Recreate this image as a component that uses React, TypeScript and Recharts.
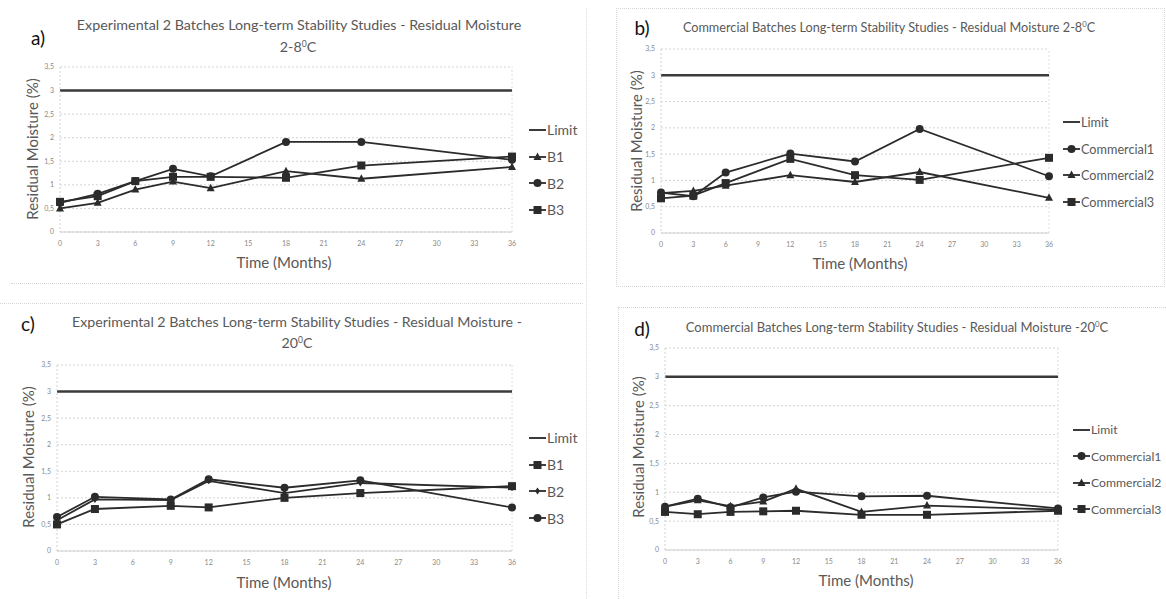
import React from 'react'
import { LineChart, Line, XAxis, YAxis, CartesianGrid, Legend, ReferenceLine } from 'recharts'

// panel a) experimental, 2-8 C
const monthsA = [0, 3, 6, 9, 12, 18, 24, 36]
const limitA = [3, 3, 3, 3, 3, 3, 3, 3]
const b1A = [0.5, 0.62, 0.9, 1.07, 0.93, 1.29, 1.13, 1.38]
const b2A = [0.62, 0.81, 1.08, 1.34, 1.18, 1.91, 1.91, 1.53]
const b3A = [0.64, 0.76, 1.08, 1.17, 1.17, 1.15, 1.41, 1.6]

// panel b) commercial, 2-8 C
const monthsB = [0, 3, 6, 12, 18, 24, 36]
const limitB = [3, 3, 3, 3, 3, 3, 3]
const c1B = [0.77, 0.7, 1.15, 1.51, 1.36, 1.98, 1.08]
const c2B = [0.76, 0.8, 0.9, 1.1, 0.97, 1.16, 0.67]
const c3B = [0.66, 0.71, 0.95, 1.41, 1.1, 1.01, 1.43]

// panel c) experimental, -20 C
const monthsC = [0, 3, 9, 12, 18, 24, 36]
const limitC = [3, 3, 3, 3, 3, 3, 3]
const b1C = [0.5, 0.79, 0.85, 0.82, 1.0, 1.09, 1.22]
const b2C = [0.58, 0.97, 0.96, 1.32, 1.09, 1.28, 1.19]
const b3C = [0.64, 1.02, 0.97, 1.35, 1.19, 1.33, 0.82]

// panel d) commercial, -20 C
const monthsD = [0, 3, 6, 9, 12, 18, 24, 36]
const limitD = [3, 3, 3, 3, 3, 3, 3, 3]
const c1D = [0.75, 0.89, 0.74, 0.91, 1.01, 0.93, 0.94, 0.72]
const c2D = [0.75, 0.86, 0.76, 0.84, 1.06, 0.66, 0.77, 0.7]
const c3D = [0.66, 0.62, 0.66, 0.67, 0.68, 0.61, 0.61, 0.68]

const xTicks = [0, 3, 6, 9, 12, 15, 18, 21, 24, 27, 30, 33, 36]
const yTicks = [0, 0.5, 1, 1.5, 2, 2.5, 3, 3.5]

const FONT = 'Lato, "Open Sans", sans-serif'
const INK = '#2b2b2b'
const GREY_TEXT = '#595959'

type Shape = 'none' | 'circle' | 'triangle' | 'square' | 'star'

const Marker = ({ shape, cx, cy }: { shape: Shape; cx: number; cy: number }) => {
  if (shape === 'circle') return <circle cx={cx} cy={cy} r={4} fill={INK} />
  if (shape === 'square') return <rect x={cx - 4} y={cy - 4} width={8} height={8} fill={INK} />
  if (shape === 'triangle')
    return <polygon points={`${cx},${cy - 4.5} ${cx + 4},${cy + 3} ${cx - 4},${cy + 3}`} fill={INK} />
  if (shape === 'star')
    return <polygon points={`${cx},${cy - 3.5} ${cx + 2.5},${cy} ${cx},${cy + 3.5} ${cx - 2.5},${cy}`} fill={INK} />
  return null
}

const makeDot = (shape: Shape) => (props: any) => {
  const { cx, cy, index } = props
  if (cx == null || cy == null) return <g key={index} />
  return (
    <g key={index}>
      <Marker shape={shape} cx={cx} cy={cy} />
    </g>
  )
}

interface Series {
  key: string
  values: number[]
  shape: Shape
}

interface PanelProps {
  left: number
  top: number
  width: number
  height: number
  margin: { top: number; right: number; bottom: number; left: number }
  yAxisWidth: number
  months: number[]
  limit: number[]
  series: Series[]
  legendLeft: number
  legendTop: number
  legendGap: number
  legendFont: number
}

const LegendBox = ({ items, gap, font }: { items: { name: string; shape: Shape }[]; gap: number; font: number }) => (
  <div style={{ fontFamily: FONT, fontSize: font, color: GREY_TEXT }}>
    {items.map(it => (
      <div key={it.name} style={{ display: 'flex', alignItems: 'center', height: gap }}>
        <svg width={17} height={12} style={{ marginRight: 1, flex: 'none' }}>
          <line x1={0} y1={6} x2={17} y2={6} stroke={it.shape === 'none' ? '#3a3a3a' : INK} strokeWidth={it.shape === 'none' ? 2 : 1.8} />
          <Marker shape={it.shape} cx={8.5} cy={6} />
        </svg>
        <span style={{ whiteSpace: 'nowrap' }}>{it.name}</span>
      </div>
    ))}
  </div>
)

const Panel = (p: PanelProps) => {
  const data = p.months.map((m, i) => {
    const row: any = { month: m, Limit: p.limit[i] }
    p.series.forEach(s => {
      row[s.key] = s.values[i]
    })
    return row
  })
  const legendItems = [{ name: 'Limit', shape: 'none' as Shape }, ...p.series.map(s => ({ name: s.key, shape: s.shape }))]
  return (
    <div style={{ position: 'absolute', left: p.left, top: p.top }}>
      <LineChart width={p.width} height={p.height} data={data} margin={p.margin}>
        <CartesianGrid vertical={false} stroke="#d4d4d4" strokeDasharray="2 2" />
        <XAxis
          dataKey="month"
          type="number"
          domain={[0, 36]}
          ticks={xTicks}
          interval={0}
          height={16}
          tickLine={false}
          axisLine={{ stroke: '#d0d0d0' }}
          tick={{ fontSize: 7, fill: '#8a8a8a', fontFamily: FONT }}
          tickMargin={3}
        />
        <YAxis
          type="number"
          domain={[0, 3.5]}
          ticks={yTicks}
          interval={0}
          width={p.yAxisWidth}
          tickLine={false}
          axisLine={{ stroke: '#d0d0d0', strokeDasharray: '2 2' }}
          tick={{ fontSize: 7, fill: '#8a8a8a', fontFamily: FONT }}
          tickFormatter={(v: number) => String(v).replace('.', ',')}
          tickMargin={0}
        />
        <ReferenceLine x={36} stroke="#dcdcdc" strokeDasharray="2 2" />
        <Legend
          layout="vertical"
          align="center"
          verticalAlign="middle"
          wrapperStyle={{ left: p.legendLeft, top: p.legendTop, width: 100 }}
          content={() => <LegendBox items={legendItems} gap={p.legendGap} font={p.legendFont} />}
        />
        <Line dataKey="Limit" stroke="#3a3a3a" strokeWidth={2.5} dot={false} activeDot={false} isAnimationActive={false} />
        {p.series.map(s => (
          <Line
            key={s.key}
            dataKey={s.key}
            stroke={INK}
            strokeWidth={1.8}
            dot={makeDot(s.shape)}
            activeDot={false}
            connectNulls
            isAnimationActive={false}
          />
        ))}
      </LineChart>
    </div>
  )
}

const Txt = ({ x, y, size, color, children }: any) => (
  <div
    style={{
      position: 'absolute',
      left: x,
      top: y,
      transform: 'translate(-50%, -50%)',
      whiteSpace: 'nowrap',
      fontFamily: FONT,
      fontSize: size,
      color,
      lineHeight: 1,
    }}
  >
    {children}
  </div>
)

const YLabel = ({ x, y }: { x: number; y: number }) => (
  <div
    style={{
      position: 'absolute',
      left: x,
      top: y,
      transform: 'translate(-50%, -50%) rotate(-90deg)',
      whiteSpace: 'nowrap',
      fontFamily: FONT,
      fontSize: 15,
      color: GREY_TEXT,
      lineHeight: 1,
    }}
  >
    Residual Moisture (%)
  </div>
)

const sup = (t: string) => <sup style={{ fontSize: '0.6em', verticalAlign: '0.6em', lineHeight: 0 }}>{t}</sup>

export default function App() {
  return (
    <div style={{ position: 'absolute', left: 0, top: 0, width: 1166, height: 599, background: '#fff', overflow: 'hidden' }}>
      {/* frames */}
      <div style={{ position: 'absolute', left: 11, top: 283, width: 572, borderTop: '1px dotted #d6d6d6' }} />
      <div style={{ position: 'absolute', left: 586, top: 8, height: 591, borderLeft: '1px dotted #dedede' }} />
      <div style={{ position: 'absolute', left: 616, top: 8, width: 547, height: 277, border: '1px dotted #d6d6d6' }} />
      <div style={{ position: 'absolute', left: 0, top: 303, width: 583, borderTop: '1px dotted #d6d6d6' }} />
      <div style={{ position: 'absolute', left: 618, top: 307, width: 560, height: 300, border: '1px dotted #d6d6d6' }} />

      <Panel
        left={0}
        top={0}
        width={583}
        height={290}
        margin={{ top: 67, right: 71, bottom: 42, left: 0 }}
        yAxisWidth={60}
        months={monthsA}
        limit={limitA}
        series={[
          { key: 'B1', values: b1A, shape: 'triangle' },
          { key: 'B2', values: b2A, shape: 'circle' },
          { key: 'B3', values: b3A, shape: 'square' },
        ]}
        legendLeft={529}
        legendTop={116.5}
        legendGap={26.7}
        legendFont={14}
      />
      <Panel
        left={583}
        top={0}
        width={583}
        height={290}
        margin={{ top: 49, right: 117, bottom: 41, left: 0 }}
        yAxisWidth={78}
        months={monthsB}
        limit={limitB}
        series={[
          { key: 'Commercial1', values: c1B, shape: 'circle' },
          { key: 'Commercial2', values: c2B, shape: 'triangle' },
          { key: 'Commercial3', values: c3B, shape: 'square' },
        ]}
        legendLeft={480}
        legendTop={108.5}
        legendGap={26.7}
        legendFont={12.7}
      />
      <Panel
        left={0}
        top={300}
        width={583}
        height={299}
        margin={{ top: 65, right: 71, bottom: 32, left: 0 }}
        yAxisWidth={57}
        months={monthsC}
        limit={limitC}
        series={[
          { key: 'B1', values: b1C, shape: 'square' },
          { key: 'B2', values: b2C, shape: 'star' },
          { key: 'B3', values: b3C, shape: 'circle' },
        ]}
        legendLeft={529}
        legendTop={124.5}
        legendGap={26.8}
        legendFont={14}
      />
      <Panel
        left={583}
        top={300}
        width={583}
        height={299}
        margin={{ top: 48, right: 108, bottom: 33, left: 0 }}
        yAxisWidth={82}
        months={monthsD}
        limit={limitD}
        series={[
          { key: 'Commercial1', values: c1D, shape: 'circle' },
          { key: 'Commercial2', values: c2D, shape: 'triangle' },
          { key: 'Commercial3', values: c3D, shape: 'square' },
        ]}
        legendLeft={490}
        legendTop={116.7}
        legendGap={26.5}
        legendFont={12.2}
      />

      {/* panel letters */}
      <Txt x={38} y={37} size={19} color="#111">a)</Txt>
      <Txt x={642} y={27} size={19} color="#111">b)</Txt>
      <Txt x={28} y={323} size={19} color="#111">c)</Txt>
      <Txt x={642} y={328} size={19} color="#111">d)</Txt>

      {/* titles */}
      <Txt x={299} y={25} size={14.3} color={GREY_TEXT}>Experimental 2 Batches Long-term Stability Studies - Residual Moisture</Txt>
      <Txt x={298} y={47} size={14.3} color={GREY_TEXT}>2-8{sup('0')}C</Txt>
      <Txt x={889} y={27} size={12.7} color={GREY_TEXT}>Commercial Batches Long-term Stability Studies - Residual Moisture 2-8{sup('0')}C</Txt>
      <Txt x={297} y={322} size={14.2} color={GREY_TEXT}>Experimental 2 Batches Long-term Stability Studies - Residual Moisture -</Txt>
      <Txt x={297} y={343} size={14.2} color={GREY_TEXT}>20{sup('0')}C</Txt>
      <Txt x={897} y={327} size={13} color={GREY_TEXT}>Commercial Batches Long-term Stability Studies - Residual Moisture -20{sup('0')}C</Txt>

      {/* axis titles */}
      <YLabel x={32} y={149} />
      <YLabel x={636} y={141} />
      <YLabel x={28} y={457} />
      <YLabel x={638} y={447} />
      <Txt x={284} y={262} size={15} color={GREY_TEXT}>Time (Months)</Txt>
      <Txt x={860} y={263} size={15} color={GREY_TEXT}>Time (Months)</Txt>
      <Txt x={284} y={582} size={15} color={GREY_TEXT}>Time (Months)</Txt>
      <Txt x={866} y={580} size={15} color={GREY_TEXT}>Time (Months)</Txt>
    </div>
  )
}
